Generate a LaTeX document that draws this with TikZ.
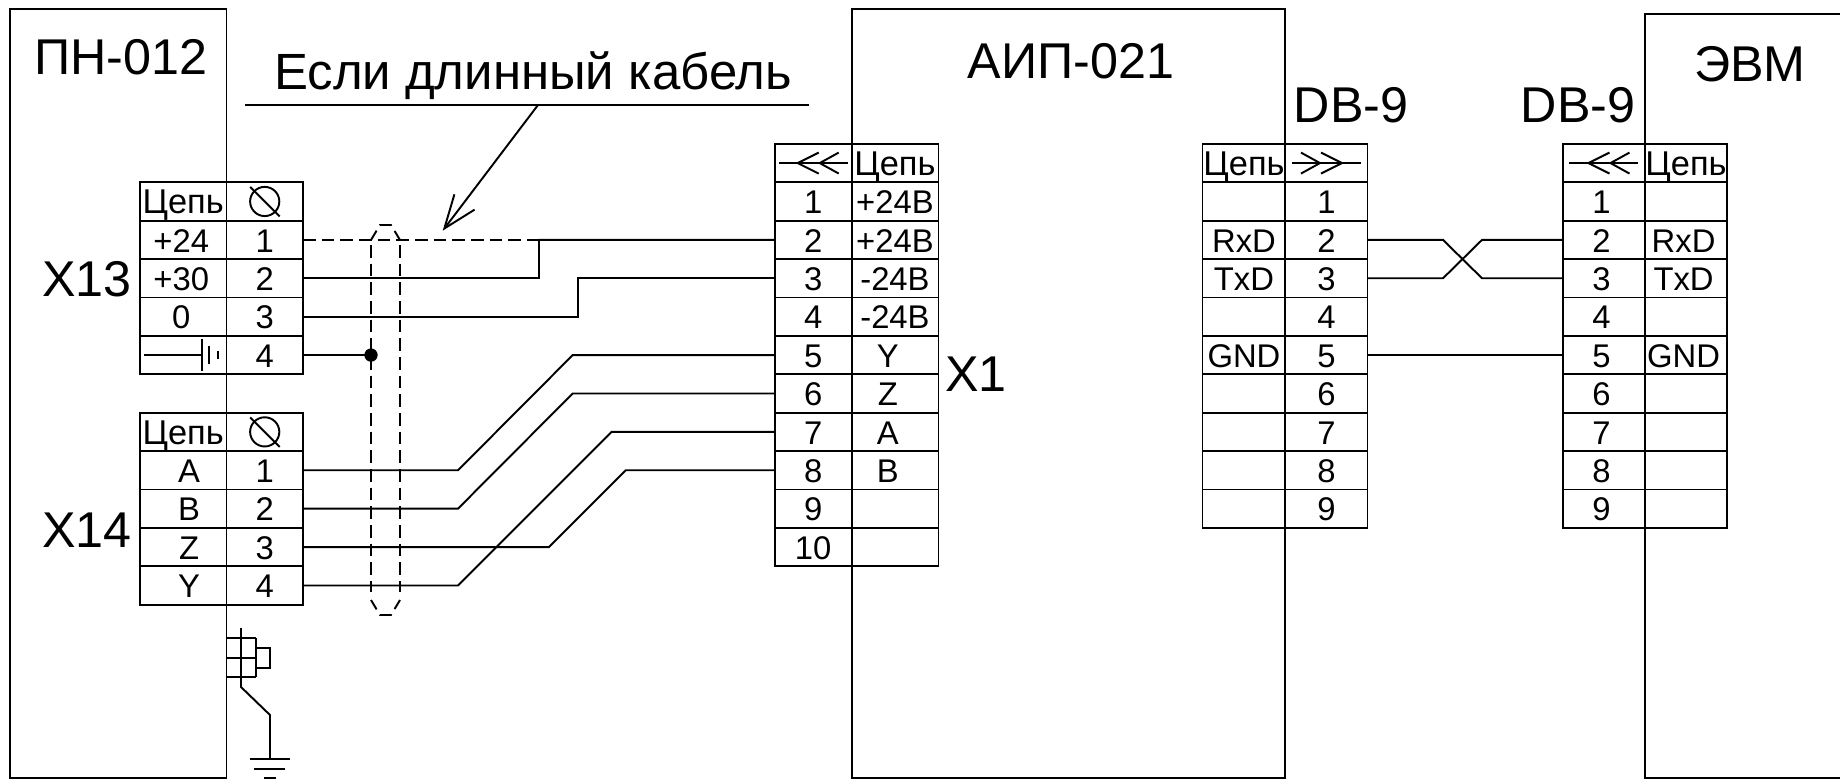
\documentclass[tikz,border=0pt]{standalone}
\usepackage{fontspec}
\setmainfont{Liberation Sans}
\usetikzlibrary{matrix,arrows.meta}
\newcommand{\cellfont}{\fontsize{24.6}{28}\selectfont}
\newcommand{\bigfont}{\fontsize{37.7}{42}\selectfont}
\newcommand{\chain}{{\fontsize{25.8}{28}\selectfont Цепь}}
\newcommand{\nudge}[2]{#2\hspace{#1}}
\newcommand{\plugmark}[2]{\begin{scope}[shift={(#1.center)},xscale=#2]
	\draw (-34.5,0) -- (34.5,0);
	\draw (5.5,-10.5) -- (-15.5,0) -- (5.5,10.5);
	\draw (25.5,-10.5) -- (6.5,0) -- (25.5,10.5);
\end{scope}}
\newcommand{\screwmark}[1]{\begin{scope}[shift={(#1.center)}]
	\draw (0,0) circle (14.6*0.75pt);
	\draw (-14.5,-14.5) -- (15,15);
\end{scope}}
\tikzset{
	pintable/.style 2 args={matrix of nodes, nodes in empty cells, inner sep=0pt, outer sep=0pt, anchor=north west, row sep=-1.45pt, column sep=-1.45pt,
		nodes={draw, anchor=center, inner sep=0pt, outer sep=0pt, minimum height=28.8pt, text height=18.2pt, text depth=0pt, font=\cellfont},
		column 1/.style={nodes={minimum width=#1*0.75pt}},
		column 2/.style={nodes={minimum width=#2*0.75pt}}},
	wire/.style={line cap=butt},
	shield/.style={dash pattern=on 9.5pt off 4.5pt},
	capdash/.style={dash pattern=on 8.2pt off 4.6pt on 9.2pt off 4.6pt},
	title/.style={font=\bigfont, inner sep=0pt}
}
\begin{document}
\begin{tikzpicture}[x=0.75pt,y=-0.75pt,line width=1.45pt]
	\useasboundingbox (0,0) rectangle (1840,779);
	\draw (10,9) rectangle (226.5,778);
	\draw (852,9) rectangle (1285,778);
	\draw (1645,14) rectangle (1850,778);

	\node[title] (pn) at (121,57) {ПН-012};
	\node[title] (aip) at (1071,61) {АИП-021};
	\node[title] (evm) at (1750,64) {ЭВМ};
	\node[title] (dbl) at (1351,105) {DB-9};
	\node[title] (dbr) at (1578,105) {DB-9};
	\node[title] (xt) at (87,279) {X13};
	\node[title] (xf) at (87,530) {X14};
	\node[title] (xo) at (976,374) {X1};
	\node[title, font=\fontsize{38.2}{44}\selectfont] (cable) at (533,75.5) {Если длинный кабель};

	\matrix (x13) [pintable={86.5}{76.5}] at (139,181.3)
	{
		\chain & \\
		\nudge{3pt}{+24} & 1 \\
		\nudge{3pt}{+30} & 2 \\
		\nudge{3pt}{0} & 3 \\
		 & 4 \\
	};
	\matrix (x14) [pintable={86.5}{76.5}] at (139,411.7)
	{
		\chain & \\
		\nudge{-8.8pt}{A} & 1 \\
		\nudge{-8.8pt}{B} & 2 \\
		\nudge{-8.8pt}{Z} & 3 \\
		\nudge{-8.8pt}{Y} & 4 \\
	};
	\matrix (x1) [pintable={76.5}{87}] at (774,142.9)
	{
		 & \chain \\
		1 & +24В \\
		2 & +24В \\
		3 & -24В \\
		4 & -24В \\
		5 & \nudge{10.6pt}{Y} \\
		6 & \nudge{10.6pt}{Z} \\
		7 & \nudge{10.6pt}{A} \\
		8 & \nudge{10.6pt}{B} \\
		9 & \\
		10 & \\
	};
	\matrix (dba) [pintable={83}{82}] at (1201.5,142.9)
	{
		\chain & \\
		 & 1 \\
		RxD & 2 \\
		TxD & 3 \\
		 & 4 \\
		GND & 5 \\
		 & 6 \\
		 & 7 \\
		 & 8 \\
		 & 9 \\
	};
	\matrix (dbb) [pintable={82}{82}] at (1562,142.9)
	{
		 & \chain \\
		\nudge{3.6pt}{1} & \\
		\nudge{3.6pt}{2} & \nudge{3.6pt}{RxD} \\
		\nudge{3.6pt}{3} & \nudge{3.6pt}{TxD} \\
		\nudge{3.6pt}{4} & \\
		\nudge{3.6pt}{5} & \nudge{3.6pt}{GND} \\
		\nudge{3.6pt}{6} & \\
		\nudge{3.6pt}{7} & \\
		\nudge{3.6pt}{8} & \\
		\nudge{3.6pt}{9} & \\
	};

	\screwmark{x13-1-2}
	\screwmark{x14-1-2}
	\plugmark{x1-1-1}{1}
	\plugmark{dba-1-2}{-1}
	\plugmark{dbb-1-1}{1}

	\draw (144,355) -- (202,355) (202,339) -- (202,371) (209,346) -- (209,364) (218,351) -- (218,359);

	\coordinate (jogb) at (538.7,0);
	\coordinate (jogc) at (578,0);
	\coordinate (dota) at (371,0 |- x13-5-2.east);
	\draw[shield] (x13-2-2.east) -- (jogb |- x13-2-2.east);
	\draw[wire] (jogb |- x13-2-2.east) -- (x1-3-1.west);
	\draw[wire] (x13-3-2.east) -| (jogb |- x1-3-1.west);
	\draw[wire] (x13-4-2.east) -| (jogc |- x1-4-1.west) -- (x1-4-1.west);
	\draw[wire] (x13-5-2.east) -- (dota);
	\fill (dota) circle (5pt);
	\foreach \from/\to/\xa/\xb in {2/6/458/572.7, 3/7/458/572.7, 4/9/549/625.7, 5/8/458/611.7}
		\draw[wire] (x14-\from-2.east) -- (\xa,0 |- x14-\from-2.east) -- (\xb,0 |- x1-\to-1.west) -- (x1-\to-1.west);

	\draw[shield] (371,245) -- (371,592);
	\draw[shield] (400,245) -- (400,592);
	\draw[capdash] (371,240) -- (380,225) -- (391,225) -- (400,240);
	\draw[capdash] (371,600) -- (380,615) -- (391,615) -- (400,600);

	\draw[wire] (dba-3-2.east) -- (1443,0 |- dba-3-2.east) -- (1482,0 |- dbb-4-1.west) -- (dbb-4-1.west);
	\draw[wire] (dba-4-2.east) -- (1443,0 |- dba-4-2.east) -- (1482,0 |- dbb-3-1.west) -- (dbb-3-1.west);
	\draw[wire] (dba-6-2.east) -- (dbb-6-1.west);

	\draw (245,105) -- (809,105);
	\draw[-{Straight Barb[length=25pt,width=19pt]}] (538,105) -- (442.7,230.7);

	\draw (226.5,638) -- (256,638) (226.5,658) -- (256,658) (226.5,677) -- (256,677) (256,638) -- (256,677);
	\draw (256,648) -- (270,648) -- (270,668) -- (256,668);
	\draw (241,628) -- (241,687) -- (270,715) -- (270,759);
	\draw (250,759) -- (290,759) (254,769) -- (285,769) (264,778) -- (276,778);
\end{tikzpicture}
\end{document}
